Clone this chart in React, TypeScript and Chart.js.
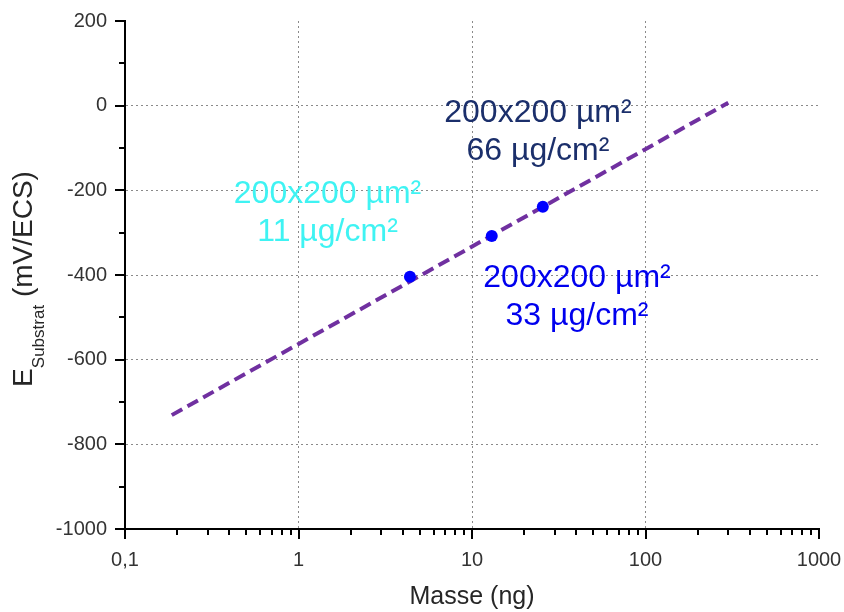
import React, { useEffect, useRef } from "react";
import { Chart, registerables } from "chart.js";

Chart.register(...registerables);

// ---- data ----
const massNg = [4.39, 13.0, 25.6];
const potentialMv = [-404, -308, -239];

const fitMass = [0.186, 300];
const fitPotential = [-731, 7];

const xTickValues = [0.1, 1, 10, 100, 1000];
const xTickLabels = ["0,1", "1", "10", "100", "1000"];
const yMin = -1000;
const yMax = 200;
const yStep = 200;

const labelLines = [
  ["200x200 µm²", "11 µg/cm²"],
  ["200x200 µm²", "66 µg/cm²"],
  ["200x200 µm²", "33 µg/cm²"],
];
const labelMass = [1.47, 24.0, 40.3];
const labelPotential = [-230, -39, -428];
const labelColors = ["#3ff3f3", "#1b2f6b", "#0000ee"];

const FONT = "'Liberation Sans', Arial, sans-serif";

const axisTicksPlugin = {
  id: "axisTicks",
  afterDraw(chart: any) {
    const { ctx, chartArea } = chart;
    const xs = chart.scales.x;
    const ys = chart.scales.y;
    ctx.save();
    ctx.strokeStyle = "#000";
    ctx.lineWidth = 2;
    ctx.beginPath();
    for (let v = yMin; v <= yMax; v += yStep / 2) {
      const p = Math.round(ys.getPixelForValue(v));
      const len = v % yStep === 0 ? 10 : 6;
      ctx.moveTo(chartArea.left, p);
      ctx.lineTo(chartArea.left - len, p);
    }
    for (let e = -1; e <= 3; e++) {
      for (let k = 1; k <= 9; k++) {
        const v = k * Math.pow(10, e);
        if (v > 1000.0001) break;
        const p = Math.round(xs.getPixelForValue(v));
        const len = k === 1 ? 10 : 6;
        ctx.moveTo(p, chartArea.bottom);
        ctx.lineTo(p, chartArea.bottom + len);
      }
    }
    ctx.stroke();
    ctx.restore();
  },
};

const annotationsPlugin = {
  id: "annotations",
  afterDatasetsDraw(chart: any) {
    const { ctx } = chart;
    const xs = chart.scales.x;
    const ys = chart.scales.y;
    ctx.save();
    ctx.font = `32px ${FONT}`;
    ctx.textAlign = "center";
    ctx.textBaseline = "alphabetic";
    labelLines.forEach((lines, i) => {
      const px = xs.getPixelForValue(labelMass[i]);
      const py = ys.getPixelForValue(labelPotential[i]);
      ctx.fillStyle = labelColors[i];
      lines.forEach((t, j) => ctx.fillText(t, px, py + j * 38));
    });
    ctx.restore();
  },
};

const yTitlePlugin = {
  id: "yTitle",
  afterDraw(chart: any) {
    const { ctx, chartArea } = chart;
    const cy = (chartArea.top + chartArea.bottom) / 2 + 4;
    const cx = 32;
    ctx.save();
    ctx.translate(cx, cy);
    ctx.rotate(-Math.PI / 2);
    ctx.fillStyle = "#262626";
    ctx.textBaseline = "alphabetic";
    ctx.textAlign = "left";
    const big = `28px ${FONT}`;
    const small = `17px ${FONT}`;
    ctx.font = big;
    const wE = ctx.measureText("E").width;
    const wRest = ctx.measureText(" (mV/ECS)").width;
    ctx.font = small;
    const wSub = ctx.measureText("Substrat").width;
    let x = -(wE + wSub + wRest) / 2;
    ctx.font = big;
    ctx.fillText("E", x, 0);
    x += wE;
    ctx.font = small;
    ctx.fillText("Substrat", x, 12);
    x += wSub;
    ctx.font = big;
    ctx.fillText(" (mV/ECS)", x, 0);
    ctx.restore();
  },
};

export default function App() {
  const canvasRef = useRef<HTMLCanvasElement | null>(null);

  useEffect(() => {
    const canvas = canvasRef.current;
    if (!canvas) return;
    const chart = new Chart(canvas, {
      type: "scatter",
      data: {
        datasets: [
          {
            label: "Mesures",
            data: massNg.map((m, i) => ({ x: m, y: potentialMv[i] })),
            backgroundColor: "#0000ff",
            borderColor: "#0000ff",
            pointRadius: 6,
            pointBorderWidth: 0,
            showLine: false,
          },
          {
            label: "Ajustement",
            data: fitMass.map((m, i) => ({ x: m, y: fitPotential[i] })),
            showLine: true,
            borderColor: "#7030a0",
            borderWidth: 4,
            borderDash: [12, 6],
            pointRadius: 0,
            fill: false,
          },
        ],
      },
      options: {
        responsive: false,
        animation: false,
        layout: { padding: { left: 0, top: 21, right: 25, bottom: 0 } },
        plugins: {
          legend: { display: false },
          tooltip: { enabled: false },
        },
        scales: {
          x: {
            type: "logarithmic",
            position: "bottom",
            min: 0.1,
            max: 1000,
            afterBuildTicks: (scale: any) => {
              scale.ticks = xTickValues.map((v) => ({ value: v, major: true }));
            },
            afterFit: (scale: any) => {
              scale.height = 83;
              scale.paddingLeft = 0;
              scale.paddingRight = 0;
              scale.paddingTop = 0;
              scale.paddingBottom = 0;
            },
            ticks: {
              autoSkip: false,
              maxRotation: 0,
              padding: 19,
              color: "#333",
              font: { family: FONT, size: 20 },
              callback: (_v: any, i: number) => xTickLabels[i],
            },
            grid: {
              drawTicks: false,
              color: (c: any) =>
                c.tick && c.tick.value > 0.1 && c.tick.value < 1000 ? "#8a8a8a" : "rgba(0,0,0,0)",
              lineWidth: 1,
            },
            border: { display: true, color: "#000", width: 2, dash: [2, 3] },
            title: {
              display: true,
              text: "Masse (ng)",
              color: "#262626",
              font: { family: FONT, size: 25 },
              padding: { top: 0, bottom: 0 },
            },
          },
          y: {
            type: "linear",
            min: yMin,
            max: yMax,
            afterFit: (scale: any) => {
              scale.width = 125;
              scale.paddingLeft = 0;
              scale.paddingRight = 0;
              scale.paddingTop = 0;
              scale.paddingBottom = 0;
            },
            ticks: {
              stepSize: yStep,
              padding: 18,
              color: "#333",
              font: { family: FONT, size: 20 },
              callback: (v: any) => String(v),
            },
            grid: {
              drawTicks: false,
              color: (c: any) =>
                c.tick && c.tick.value > yMin && c.tick.value < yMax ? "#8a8a8a" : "rgba(0,0,0,0)",
              lineWidth: 1,
            },
            border: { display: true, color: "#000", width: 2, dash: [2, 3] },
          },
        },
      },
      plugins: [axisTicksPlugin, annotationsPlugin, yTitlePlugin],
    });
    return () => chart.destroy();
  }, []);

  return (
    <div style={{ position: "fixed", left: 0, top: 0, width: 844, height: 612, background: "#fff" }}>
      <canvas ref={canvasRef} width={844} height={612} />
    </div>
  );
}
